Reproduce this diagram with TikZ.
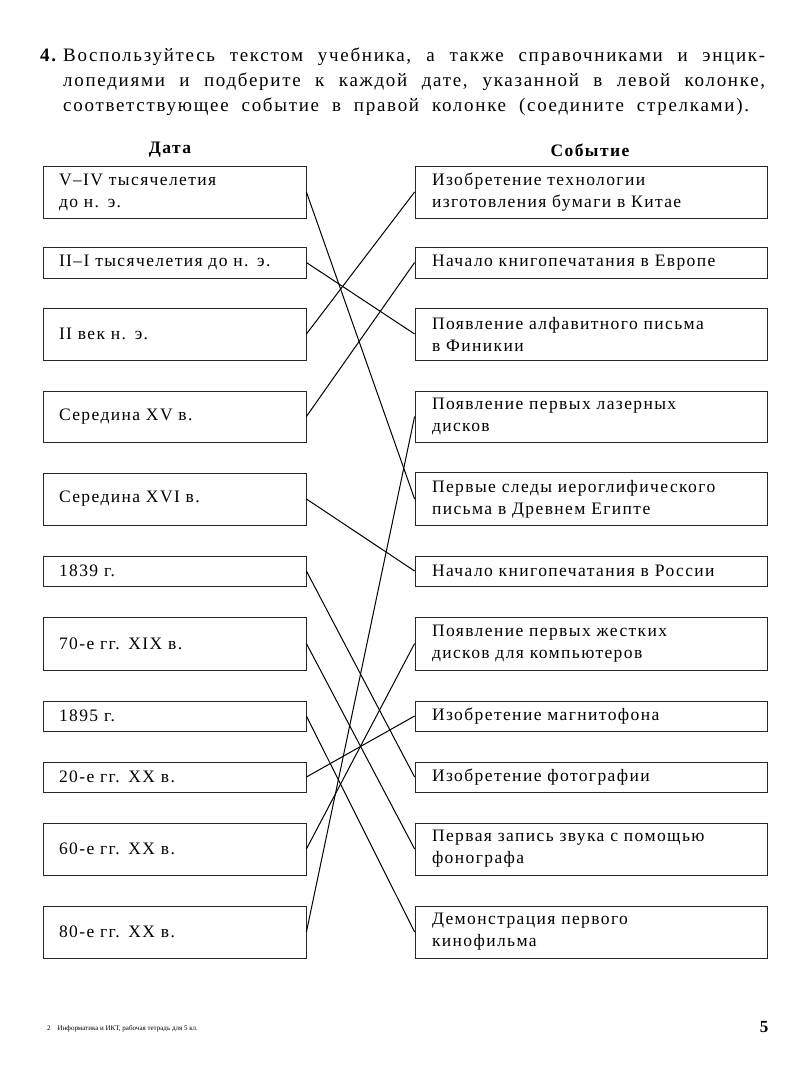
\documentclass[tikz,border=0pt]{standalone}
\usepackage{fontspec}
\setmainfont{Liberation Serif}
\newfontfamily\boxfont[LetterSpace=8, WordSpace=2]{Liberation Serif}
\newfontfamily\taskfont[LetterSpace=9, WordSpace=2]{Liberation Serif}

\begin{document}
\begin{tikzpicture}[x=1pt, y=-1pt,
  datebox/.style={draw=black!85, line width=0.8pt, rectangle, inner xsep=8pt, inner ysep=0pt,
    text width=247pt, align=left, font=\boxfont\fontsize{17.5}{22}\selectfont,
    execute at begin node={\leftskip=8pt\relax}},
  eventbox/.style={datebox, text width=336pt, execute at begin node={\leftskip=9pt\relax}},
  head/.style={font=\boxfont\bfseries\fontsize{17.5}{20}\selectfont},
  link/.style={line width=1pt}]
 \useasboundingbox (0,0) rectangle (810,1080);
 \node[anchor=base west, inner sep=0pt, font=\taskfont\bfseries\fontsize{19}{25}\selectfont] (num) at (40,61) {4.};
 \node[anchor=base west, inner sep=0pt, text width=702pt, align=justify, font=\taskfont\fontsize{19}{25}\selectfont] (task) at (63,61)
  {Воспользуйтесь текстом учебника, а также справочниками и энцик-\linebreak
   лопедиями и подберите к каждой дате, указанной в левой колонке,\linebreak
   соответствующее событие в правой колонке (соедините стрелками).};
 \node[head] (date) at (170,150) {Дата};
 \node[head] (event) at (590,150) {Событие};
 \node[datebox, minimum height=52pt] (v4) at (174.5,192) {V–IV тысячелетия\\до н. э.};
 \node[datebox, minimum height=31pt] (iii) at (174.5,262.5) {II–I тысячелетия до н. э.};
 \node[datebox, minimum height=52pt] (ii) at (174.5,334) {II век н. э.};
 \node[datebox, minimum height=51pt] (xv) at (174.5,416.5) {Середина XV в.};
 \node[datebox, minimum height=52pt] (xvi) at (174.5,499) {Середина XVI в.};
 \node[datebox, minimum height=30pt] (y1839) at (174.5,571) {1839 г.};
 \node[datebox, minimum height=53pt] (y1870) at (174.5,643.5) {70-е гг. XIX в.};
 \node[datebox, minimum height=30pt] (y1895) at (174.5,716) {1895 г.};
 \node[datebox, minimum height=30pt] (y1920) at (174.5,777) {20-е гг. XX в.};
 \node[datebox, minimum height=52pt] (y1960) at (174.5,849) {60-е гг. XX в.};
 \node[datebox, minimum height=52pt] (y1980) at (174.5,932) {80-е гг. XX в.};
 \node[eventbox, minimum height=52pt] (paper) at (591,192) {Изобретение технологии\\изготовления бумаги в Китае};
 \node[eventbox, minimum height=31pt] (europe) at (591,262.5) {Начало книгопечатания в Европе};
 \node[eventbox, minimum height=52pt] (phoenicia) at (591,334) {Появление алфавитного письма\\в Финикии};
 \node[eventbox, minimum height=51pt] (laser) at (591,416.5) {Появление первых лазерных\\дисков};
 \node[eventbox, minimum height=53pt] (egypt) at (591,499) {Первые следы иероглифического\\письма в Древнем Египте};
 \node[eventbox, minimum height=30pt] (russia) at (591,571) {Начало книгопечатания в России};
 \node[eventbox, minimum height=53pt] (hdd) at (591,643.5) {Появление первых жестких\\дисков для компьютеров};
 \node[eventbox, minimum height=30pt] (tape) at (591,716) {Изобретение магнитофона};
 \node[eventbox, minimum height=30pt] (photo) at (591,777) {Изобретение фотографии};
 \node[eventbox, minimum height=52pt] (phono) at (591,849) {Первая запись звука с помощью\\фонографа};
 \node[eventbox, minimum height=52pt] (film) at (591,932) {Демонстрация первого\\кинофильма};
 \draw[link] (v4.east) -- (egypt.west);
 \draw[link] (iii.east) -- (phoenicia.west);
 \draw[link] (ii.east) -- (paper.west);
 \draw[link] (xv.east) -- (europe.west);
 \draw[link] (xvi.east) -- (russia.west);
 \draw[link] (y1839.east) -- (photo.west);
 \draw[link] (y1870.east) -- (phono.west);
 \draw[link] (y1895.east) -- (film.west);
 \draw[link] (y1920.east) -- (tape.west);
 \draw[link] (y1960.east) -- (hdd.west);
 \draw[link] (y1980.east) -- (laser.west);
 \node[anchor=base west, inner sep=0pt, font=\fontsize{7}{8}\selectfont] (foot) at (47,1030) {2\quad Информатика и ИКТ, рабочая тетрадь для 5 кл.};
 \node[anchor=base, inner sep=0pt, font=\bfseries\fontsize{17}{20}\selectfont] (page) at (764,1032) {5};
\end{tikzpicture}
\end{document}
